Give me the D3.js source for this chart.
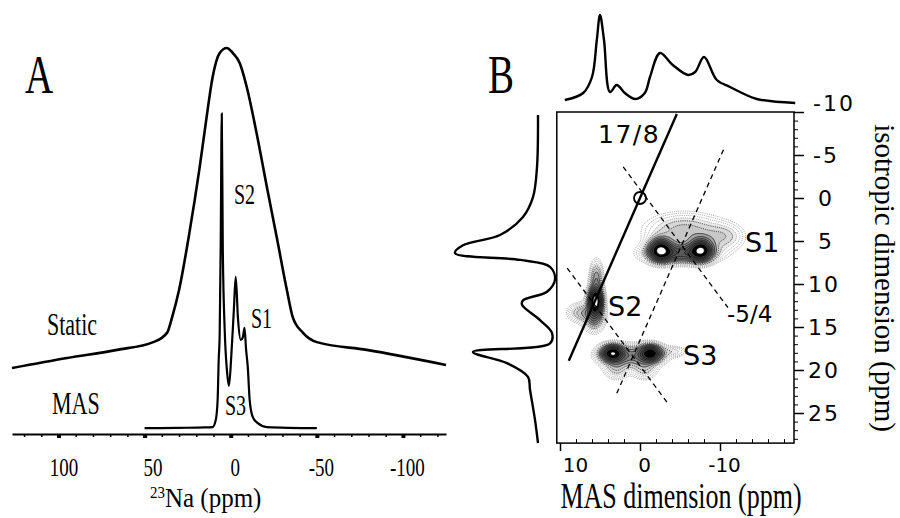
<!DOCTYPE html>
<html>
<head>
<meta charset="utf-8">
<script src="https://cdn.jsdelivr.net/npm/d3@7"></script>
<style>
  body { margin: 0; background: #fff; }
  svg { display: block; }
  .serif { font-family: "Liberation Serif", "DejaVu Serif", serif; fill: #000; }
  .sans { font-family: "DejaVu Sans", sans-serif; fill: #000; }
  .axis path, .axis line { stroke: #000; }
</style>
</head>
<body>
<svg id="fig" width="900" height="518"></svg>
<script>
// ---------- panel A : 23Na static and MAS spectra ----------
var staticPpm = [127, 95, 66, 45, 37, 34, 30, 24, 18, 14, 10.5, 6.4, 2.3, -1.2, -5.2, -9.3, -15, -21, -27, -32.6, -36, -42, -50, -79, -125];
var staticInt = [17.1, 19.7, 21.8, 23.8, 26.2, 30.3, 37.3, 52.1, 69.2, 82.1, 92.5, 98.7, 100, 98.7, 96.1, 89.9, 78, 64, 50.3, 37.3, 30.3, 26.2, 23.8, 21.8, 17.9];

var masPpm = [50, 30, 15, 10.5, 8.7, 7.6, 7.0, 6.4, 5.8, 5.2, 4.6, 3.5, 2.2, 1.0, -0.3, -1.8, -2.9, -4.2, -5.8, -7.0, -8.0, -8.9, -9.9, -11, -12.8, -15.7, -21, -50];
var masInt = [1.5, 1.6, 1.7, 1.8, 3.6, 8.8, 19, 26, 50, 83, 48, 27, 16.5, 12.5, 20, 32, 40.7, 30, 24.4, 25, 27.5, 22, 17.4, 8.8, 4.4, 2.8, 1.8, 1.5];

var ticksA = [100, 50, 0, -50, -100];

// ---------- panel B : 2D MQMAS ----------
// projections
var topMas = [9.4, 7.1, 6.0, 5.4, 5.0, 4.5, 3.75, 2.9, 1.9, 0.6, -0.6, -1.25, -2.5, -4.1, -6.0, -6.9, -8.0, -9.6, -11.25, -12.5, -14.6, -19.4];
var topInt = [3, 10, 26, 63, 88, 63, 11, 18, 10, 4, 10, 26, 50, 38, 28, 31, 46, 23, 16, 11, 4, 0];

var isoPos = [-9.65, -3.6, -0.1, 2.2, 4.3, 5.5, 6.4, 7.2, 8.0, 9.5, 10.9, 11.9, 12.4, 14.2, 15.7, 16.9, 17.9, 19.2, 20.8, 22.3, 25.8, 28.5];
var isoInt = [17, 18, 22, 32, 55, 92, 100, 35, 5, 0, 8, 32, 33, 15, 3, 5, 82, 48, 27, 25, 20, 17];

// peak components per site: [mas, iso, width mas, width iso, amplitude]
var siteS1 = [[-2.5, 6.0, 0.9, 0.8, 0.8], [-7.6, 6.0, 0.9, 0.8, 0.75], [-5.0, 6.4, 2.6, 0.7, 0.45], [-5.5, 3.8, 3.0, 1.3, 0.2], [-10.5, 4.5, 1.6, 1.0, 0.13]];
var siteS2 = [[5.6, 11.9, 0.55, 1.0, 1.0], [5.5, 9.2, 0.5, 1.2, 0.25], [7.5, 13.3, 1.0, 0.7, 0.18], [5.8, 13.8, 0.8, 1.0, 0.3]];
var siteS3 = [[3.5, 18.0, 0.9, 0.6, 0.8], [-1.3, 18.0, 0.9, 0.6, 0.75], [1.1, 18.3, 2.4, 0.8, 0.28], [3.0, 19.8, 1.0, 0.8, 0.15], [-0.5, 19.8, 1.0, 0.8, 0.15], [-4.3, 17.8, 1.0, 0.4, 0.1]];
var levels = [0.04, 0.055, 0.075, 0.1, 0.13, 0.17, 0.22, 0.28, 0.35, 0.43, 0.52, 0.62];
var ringLevel = 0.72;
var coreLevel = 0.93;

// guide lines: slope, point it passes through [mas, iso], mas extent
var solidLine = {slope: 17 / 8, at: [0, 0], from: 8.9, to: -4.6};
var dashedLines = [
  {slope: -5 / 4, at: [-5.2, 5.5], from: 2.1, to: -11.0},
  {slope: 17 / 8, at: [-5.2, 5.5], from: 2.9, to: -10.6},
  {slope: -5 / 4, at: [0.9, 18.4], from: 9.1, to: -3.4}
];

var ticksMas = [10, 0, -10];
var ticksIso = [-10, -5, 0, 5, 10, 15, 20, 25];

var svg = d3.select("#fig");

// text helper, serif glyphs are tall and narrow so stretch vertically
function label(txt, x, y, size, sy, cls, anchor) {
  return svg.append("text").attr("class", cls)
    .attr("transform", "translate(" + x + "," + y + ") scale(1," + sy + ")")
    .attr("text-anchor", anchor || "start")
    .style("font-size", size + "px")
    .text(txt);
}

// ===== panel A =====
var xA = d3.scaleLinear().domain([127, -125]).range([12, 446]);
var yA = d3.scaleLinear().domain([0, 100]).range([434, 48]);

var lineA = d3.line()
  .x(function(d) { return xA(d[0]); })
  .y(function(d) { return yA(d[1]); })
  .curve(d3.curveMonotoneX);

svg.append("path")
  .datum(d3.zip(staticPpm, staticInt))
  .attr("d", lineA)
  .attr("fill", "none").attr("stroke", "#000").attr("stroke-width", 2.6);

svg.append("path")
  .datum(d3.zip(masPpm, masInt))
  .attr("d", lineA)
  .attr("fill", "none").attr("stroke", "#000").attr("stroke-width", 2.2);

// minor ticks every 10 ppm
svg.append("g").attr("class", "axis")
  .attr("transform", "translate(0,434)")
  .call(d3.axisBottom(xA).tickValues(d3.range(120, -121, -10)).tickSize(3).tickSizeOuter(0).tickFormat(""))
  .call(function(g) { g.select(".domain").attr("stroke-width", 2); g.selectAll(".tick line").attr("stroke-width", 1.5); });

var axA = svg.append("g").attr("class", "axis")
  .attr("transform", "translate(0,434)")
  .call(d3.axisBottom(xA).tickValues(ticksA).tickSize(4).tickSizeOuter(0).tickFormat(function(d) { return String(d); }));
axA.select(".domain").remove();
axA.selectAll(".tick line").attr("stroke-width", 4);
axA.selectAll(".tick text")
  .attr("class", "serif")
  .attr("dy", null)
  .attr("y", 42 / 1.35)
  .attr("dx", function(d) { return d === 50 ? 8 : (d > 0 ? 5 : 4); })
  .attr("transform", "scale(1,1.35)")
  .style("font-size", "19px");

label("A", 25, 93, 39, 1.4, "serif");
label("Static", 47, 335, 22, 1.4, "serif");
label("MAS", 52, 414, 22, 1.4, "serif");
label("S2", 234, 204, 20, 1.45, "serif");
label("S1", 251, 328, 20, 1.45, "serif");
label("S3", 225, 415, 20, 1.45, "serif");

var naLabel = svg.append("text").attr("class", "serif")
  .attr("transform", "translate(150,507) scale(1,1.12)")
  .style("font-size", "25px");
naLabel.append("tspan").text("23").style("font-size", "15px").attr("dy", -8);
naLabel.append("tspan").text("Na (ppm)").attr("dy", 8);

// ===== panel B =====
var xB = d3.scaleLinear().domain([10, -10]).range([560, 720]);
var yB = d3.scaleLinear().domain([-10, 25]).range([112, 413]);
var masHi = 10.4, masLo = -19.25, isoLo = -10, isoHi = 28.5;
var bx0 = xB(masHi), bx1 = xB(masLo), by0 = yB(isoLo), by1 = yB(isoHi);

svg.append("clipPath").attr("id", "boxClip")
  .append("rect").attr("x", bx0).attr("y", by0).attr("width", bx1 - bx0).attr("height", by1 - by0);

// surface on a grid from the peak components
var step = 0.1;
var nx = Math.round((masHi - masLo) / step) + 1;
var ny = Math.round((isoHi - isoLo) / step) + 1;
var peaks = siteS1.concat(siteS2, siteS3);
var grid = new Float64Array(nx * ny);
for (var j = 0; j < ny; j++) {
  var iso = isoLo + j * step;
  for (var i = 0; i < nx; i++) {
    var mas = masHi - i * step, v = 0;
    peaks.forEach(function(p) {
      var dm = (mas - p[0]) / p[2], di = (iso - p[1]) / p[3];
      v += p[4] * Math.exp(-0.5 * (dm * dm + di * di));
    });
    grid[j * nx + i] = v;
  }
}

var gridPath = d3.geoPath(d3.geoTransform({
  point: function(x, y) { this.stream.point(xB(masHi - x * step), yB(isoLo + y * step)); }
}));

var contourG = svg.append("g").attr("clip-path", "url(#boxClip)");
contourG.selectAll("path.lvl")
  .data(d3.contours().size([nx, ny]).thresholds(levels)(grid))
  .join("path")
  .attr("class", "lvl")
  .attr("d", gridPath)
  .attr("fill", "#000")
  .attr("fill-opacity", function(d, k) { return k < 3 ? 0 : (k < 6 ? 0.08 : 0.18); })
  .attr("stroke", function(d, k) { return k < 4 ? "#777" : "#111"; })
  .attr("stroke-width", function(d, k) { return k < 4 ? 0.6 : 0.7; })
  .attr("stroke-dasharray", function(d, k) { return k < 6 ? "1.2,1" : null; });

// black rings with open centres at the maxima
contourG.selectAll("path.ring")
  .data(d3.contours().size([nx, ny]).thresholds([ringLevel])(grid))
  .join("path")
  .attr("class", "ring")
  .attr("d", gridPath)
  .attr("fill", "#000");

contourG.selectAll("path.core")
  .data(d3.contours().size([nx, ny]).thresholds([coreLevel])(grid))
  .join("path")
  .attr("class", "core")
  .attr("d", gridPath)
  .attr("fill", "#fff")
  .attr("stroke", "#000")
  .attr("stroke-width", 0.8);

// guide lines
function guide(l) {
  return [l.from, l.to].map(function(m) { return [m, l.at[1] + l.slope * (m - l.at[0])]; });
}
var lineB = d3.line().x(function(d) { return xB(d[0]); }).y(function(d) { return yB(d[1]); });

svg.append("g").selectAll("path")
  .data(dashedLines.map(guide))
  .join("path")
  .attr("d", lineB)
  .attr("fill", "none").attr("stroke", "#000").attr("stroke-width", 1.3)
  .attr("stroke-dasharray", "5,4");

svg.append("path")
  .datum(guide(solidLine))
  .attr("d", lineB)
  .attr("fill", "none").attr("stroke", "#000").attr("stroke-width", 2.4);

svg.append("circle")
  .attr("cx", xB(solidLine.at[0])).attr("cy", yB(solidLine.at[1])).attr("r", 6)
  .attr("fill", "none").attr("stroke", "#000").attr("stroke-width", 1.8);

// frame
svg.append("rect")
  .attr("x", bx0).attr("y", by0).attr("width", bx1 - bx0).attr("height", by1 - by0)
  .attr("fill", "none").attr("stroke", "#000").attr("stroke-width", 1.5);

// MAS axis (bottom)
svg.append("g").attr("class", "axis")
  .attr("transform", "translate(0," + by1 + ")")
  .call(d3.axisBottom(xB).tickValues(d3.range(8, -19, -2).filter(function(d) { return d % 10 !== 0; })).tickSize(-4).tickSizeOuter(0).tickFormat(""))
  .call(function(g) { g.select(".domain").remove(); });

var axMas = svg.append("g").attr("class", "axis")
  .attr("transform", "translate(0," + by1 + ")")
  .call(d3.axisBottom(xB).tickValues(ticksMas).tickSize(8).tickSizeOuter(0).tickFormat(function(d) { return String(d); }));
axMas.select(".domain").remove();
axMas.selectAll(".tick line").attr("stroke-width", 1.5);
axMas.selectAll(".tick text")
  .attr("class", "sans")
  .attr("dy", null).attr("y", 29)
  .attr("dx", function(d) { return d === 10 ? 15 : 4; })
  .style("font-size", "20px");

// isotropic axis (right)
svg.append("g").attr("class", "axis")
  .attr("transform", "translate(" + bx1 + ",0)")
  .call(d3.axisRight(yB).tickValues(d3.range(-9, 29, 1).filter(function(d) { return d % 5 !== 0; })).tickSize(4).tickSizeOuter(0).tickFormat(""))
  .call(function(g) { g.select(".domain").remove(); });

var axIso = svg.append("g").attr("class", "axis")
  .attr("transform", "translate(" + bx1 + ",0)")
  .call(d3.axisRight(yB).tickValues(ticksIso).tickSize(10).tickSizeOuter(0).tickFormat(function(d) { return String(d); }));
axIso.select(".domain").remove();
axIso.selectAll(".tick line").attr("stroke-width", 1.5);
axIso.selectAll(".tick text")
  .attr("class", "sans")
  .attr("x", function(d) { return d < 0 ? 19 : (d < 10 ? 24 : 14); })
  .attr("dy", function(d) { return d === -10 ? "-0.05em" : "0.33em"; })
  .attr("text-anchor", "start")
  .attr("letter-spacing", 2)
  .style("font-size", "22px");

// projections
var yT = d3.scaleLinear().domain([0, 100]).range([103, 3]);
var xL = d3.scaleLinear().domain([0, 100]).range([555, 455]);

svg.append("path")
  .datum(d3.zip(topMas, topInt))
  .attr("d", d3.line().x(function(d) { return xB(d[0]); }).y(function(d) { return yT(d[1]); }).curve(d3.curveCatmullRom.alpha(0.5)))
  .attr("fill", "none").attr("stroke", "#000").attr("stroke-width", 2.4).attr("stroke-linejoin", "round");

svg.append("path")
  .datum(d3.zip(isoPos, isoInt))
  .attr("d", d3.line().x(function(d) { return xL(d[1]); }).y(function(d) { return yB(d[0]); }).curve(d3.curveCatmullRom.alpha(0.5)))
  .attr("fill", "none").attr("stroke", "#000").attr("stroke-width", 2.4).attr("stroke-linejoin", "round");

// labels
label("B", 488, 93, 39, 1.4, "serif");
label("17/8", 598, 143, 25, 1, "sans").attr("letter-spacing", 1.5);
label("S1", 745, 252, 27, 1, "sans");
label("S2", 608, 316, 27, 1, "sans");
label("S3", 683, 365, 27, 1, "sans");
label("-5/4", 727, 322, 23, 1, "sans");
label("MAS dimension (ppm)", 681, 508, 26, 1.35, "serif", "middle");

svg.append("text").attr("class", "serif")
  .attr("transform", "translate(875,278) rotate(90)")
  .attr("text-anchor", "middle")
  .style("font-size", "29px")
  .text("isotropic dimension (ppm)");
</script>
</body>
</html>
